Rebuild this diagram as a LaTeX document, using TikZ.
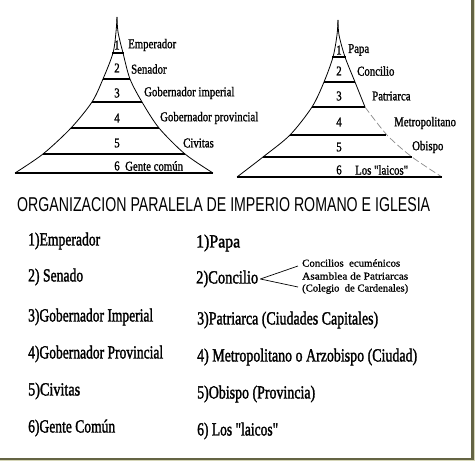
\documentclass[tikz,border=0pt]{standalone}
\usepackage{graphicx}
\usepackage{fontspec}
\setmainfont{Liberation Serif}[FakeStretch=0.8]
\newfontfamily\itemfont{Liberation Serif}[FakeBold=1.8]
\newfontfamily\pyrfont{Liberation Serif}[FakeStretch=0.8,FakeBold=1.2]
\newfontfamily\titlefont{Liberation Sans}
\newfontfamily\notefont{Liberation Serif}[FakeBold=1]
\definecolor{bandcol}{RGB}{214,214,184}
\definecolor{edgecol}{RGB}{100,100,68}
\newlength\fitlen
\newcommand\fitw[2]{\settowidth\fitlen{#2}\pgfmathsetmacro\fitfac{#1/\fitlen}\scalebox{\fitfac}[1]{#2}}
\begin{document}
\begin{tikzpicture}[x=1pt,y=-1pt,
  lbl/.style={inner sep=0pt, anchor=west, font=\pyrfont\fontsize{13.5}{14}\selectfont},
  num/.style={inner sep=0pt, font=\pyrfont\fontsize{13.5}{14}\selectfont},
  item/.style={inner sep=0pt, anchor=west, font=\itemfont\fontsize{18.5}{19}\selectfont},
  note/.style={inner sep=0pt, anchor=west, font=\notefont\fontsize{10.5}{11}\selectfont},
  bar/.style={line width=1.7pt},
  side/.style={line width=0.8pt},
  faint/.style={line width=0.7pt, black!45, dash pattern=on 7pt off 3pt},
  link/.style={line width=0.7pt}
  ]
\useasboundingbox (0,0) rectangle (475,461);
% frame
\fill[bandcol] (0,0) rectangle (475,461);
\fill[edgecol] (0,0) rectangle (473.5,460);
\fill[white] (0,0) rectangle (471,458);

% ---- left pyramid ----
\draw[side] plot[smooth] coordinates {(117,17) (116,32) (113,53) (103,79) (92,102) (71,128) (43,154) (15,173)};
\draw[side] plot[smooth] coordinates {(117,17) (118,32) (123,53) (130,79) (142,102) (159,128) (185,154) (213,173)};
\draw[bar] (112,53) -- (124,53);
\draw[bar] (103,79) -- (130,79);
\draw[bar] (92,102) -- (142,102);
\draw[bar] (71,128) -- (159,128);
\draw[bar] (43,154) -- (185,154);
\draw[bar] (15,173) -- (213,173);
\node[num] (ln1) at (117,45) {1};
\node[num] (ln2) at (117,68) {2};
\node[num] (ln3) at (117,93) {3};
\node[num] (ln4) at (117,118) {4};
\node[num] (ln5) at (117,143) {5};
\node[num] (ln6) at (117,166) {6};
\node[lbl] (ll1) at (128,45) {Emperador};
\node[lbl] (ll2) at (131,69) {Senador};
\node[lbl] (ll3) at (144,93) {Gobernador imperial};
\node[lbl] (ll4) at (160,118) {Gobernador provincial};
\node[lbl] (ll5) at (183,143) {Civitas};
\node[lbl] (ll6) at (125,166) {Gente común};

% ---- right pyramid ----
\draw[side] plot[smooth] coordinates {(338,20) (337,35) (333,57) (324,82) (312,107) (290,135) (263,157) (237,177)};
\draw[side] plot[smooth] coordinates {(338,20) (339,35) (345,57) (355,82) (365,107)};
\draw[faint] plot[smooth] coordinates {(365,107) (387,135) (412,157) (442,177)};
\draw[bar] (332,57) -- (346,57);
\draw[bar] (324,82) -- (355,82);
\draw[bar] (312,107) -- (365,107);
\draw[bar] (290,135) -- (386,135);
\draw[bar] (263,157) -- (412,157);
\draw[bar] (237,177) -- (442,177);
\node[num] (rn1) at (339,50) {1};
\node[num] (rn2) at (339,71) {2};
\node[num] (rn3) at (339,96) {3};
\node[num] (rn4) at (339,122) {4};
\node[num] (rn5) at (339,147) {5};
\node[num] (rn6) at (339,170) {6};
\node[lbl] (rl1) at (348,50) {Papa};
\node[lbl] (rl2) at (357,71) {Concilio};
\node[lbl] (rl3) at (372,96) {Patriarca};
\node[lbl] (rl4) at (394,123) {Metropolitano};
\node[lbl] (rl5) at (412,147) {Obispo};
\node[lbl] (rl6) at (355,170) {Los "laicos"};

% ---- title ----
\node[font=\titlefont\fontsize{20}{21}\selectfont, inner sep=0pt, anchor=west] (title) at (17,205) {\fitw{413}{ORGANIZACION PARALELA DE IMPERIO ROMANO E IGLESIA}};

% ---- lists ----
\node[item] (a1) at (28,241) {\fitw{72}{1)Emperador}};
\node[item] (a2) at (28,277) {\fitw{55}{2) Senado}};
\node[item] (a3) at (28,317) {\fitw{125}{3)Gobernador Imperial}};
\node[item] (a4) at (28,354) {\fitw{135}{4)Gobernador Provincial}};
\node[item] (a5) at (28,391) {\fitw{52}{5)Civitas}};
\node[item] (a6) at (28,428) {\fitw{87}{6)Gente Común}};

\node[item] (b1) at (196,243) {\fitw{44}{1)Papa}};
\node[item] (b2) at (196,279) {\fitw{62}{2)Concilio}};
\node[item] (b3) at (197,320) {\fitw{181}{3)Patriarca (Ciudades Capitales)}};
\node[item] (b4) at (197,357) {\fitw{220}{4) Metropolitano o Arzobispo (Ciudad)}};
\node[item] (b5) at (197,394) {\fitw{118}{5)Obispo (Provincia)}};
\node[item] (b6) at (197,431) {\fitw{81}{6) Los "laicos"}};

\node[note] (n1) at (302,263) {\fitw{98}{Concilios \ ecuménicos}};
\node[note] (n2) at (302,276) {\fitw{106}{Asamblea de Patriarcas}};
\node[note] (n3) at (302,289) {\fitw{106}{(Colegio \ de Cardenales)}};
\draw[link] ([xshift=2pt]b2.east) -- ([xshift=-4pt,yshift=-3pt]n1.west);
\draw[link] ([xshift=2pt]b2.east) -- ([xshift=-4pt,yshift=2pt]n3.west);
\end{tikzpicture}
\end{document}
